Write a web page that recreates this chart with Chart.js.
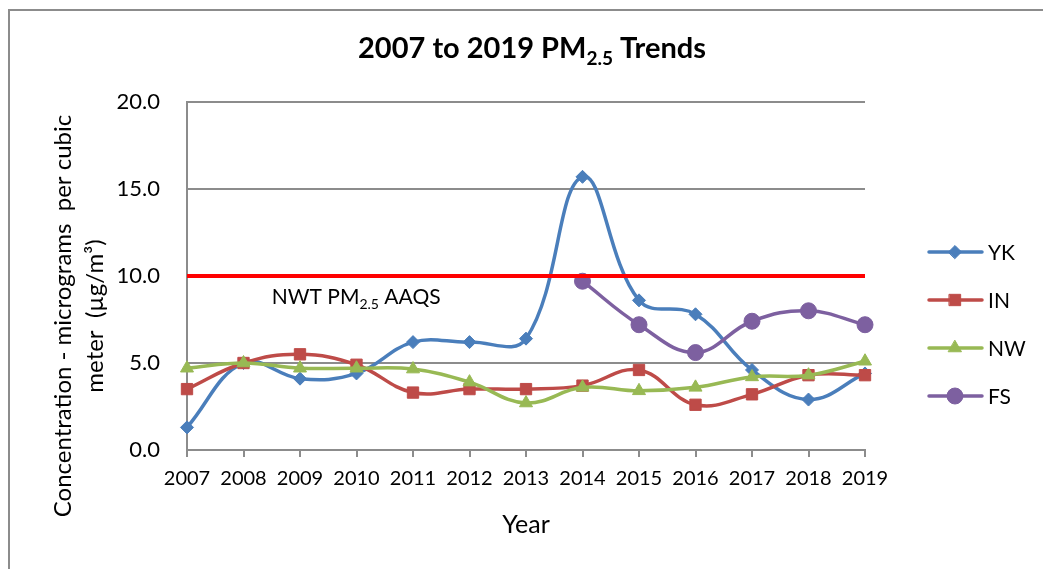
<!DOCTYPE html>
<html>
<head>
<meta charset="utf-8">
<script src="https://cdn.jsdelivr.net/npm/chart.js@4"></script>
<style>
  body { margin: 0; background: #fff; }
  #wrap { position: relative; width: 1043px; height: 569px; }
</style>
</head>
<body>
<div id="wrap"><canvas id="pmChart"></canvas></div>
<script>
const years = ["2007", "2008", "2009", "2010", "2011", "2012", "2013", "2014", "2015", "2016", "2017", "2018", "2019"];
const ykValues = [1.3, 5.0, 4.1, 4.4, 6.2, 6.2, 6.4, 15.7, 8.6, 7.8, 4.6, 2.9, 4.4];
const inValues = [3.5, 5.0, 5.5, 4.9, 3.3, 3.5, 3.5, 3.7, 4.6, 2.6, 3.2, 4.3, 4.3];
const nwValues = [4.7, 5.0, 4.7, 4.7, 4.65, 3.9, 2.7, 3.6, 3.4, 3.6, 4.2, 4.3, 5.1];
const fsValues = [null, null, null, null, null, null, null, 9.7, 7.2, 5.6, 7.4, 8.0, 7.2];
const aaqsValues = [10, 10, 10, 10, 10, 10, 10, 10, 10, 10, 10, 10, 10];
const yTickValues = [0, 5, 10, 15, 20];

const FONT = "Lato, 'Open Sans', sans-serif";
const GRID = "#8c8c8c";

const series = [
  { label: "YK", data: ykValues, color: "#4a7ebb", style: "rectRot", radius: 6.5 },
  { label: "IN", data: inValues, color: "#be4b48", style: "rect", radius: 8 },
  { label: "NW", data: nwValues, color: "#98b954", style: "triangle", radius: 7.5 },
  { label: "FS", data: fsValues, color: "#7d60a0", style: "circle", radius: 8 },
];

// text with a subscript part, parts = [text, font, dy]
function drawParts(ctx, parts, x, y, align) {
  let total = 0;
  parts.forEach((p) => {
    ctx.font = p[1];
    total += ctx.measureText(p[0]).width;
  });
  let cx = align === "center" ? x - total / 2 : x;
  ctx.textAlign = "left";
  parts.forEach((p) => {
    ctx.font = p[1];
    ctx.fillText(p[0], cx, y + p[2]);
    cx += ctx.measureText(p[0]).width;
  });
}

function drawMarker(ctx, style, radius, x, y) {
  if (Chart.helpers && Chart.helpers.drawPoint) {
    Chart.helpers.drawPoint(ctx, { pointStyle: style, radius: radius, rotation: 0, borderWidth: 1 }, x, y);
    return;
  }
  ctx.beginPath();
  ctx.arc(x, y, radius, 0, Math.PI * 2);
  ctx.fill();
}

const extras = {
  id: "extras",
  beforeDraw(chart) {
    const ctx = chart.ctx;
    ctx.save();
    ctx.fillStyle = "#fff";
    ctx.fillRect(0, 0, chart.width, chart.height);
    ctx.strokeStyle = GRID;
    ctx.lineWidth = 2;
    ctx.strokeRect(9, 10, 1200, 800);
    ctx.restore();
  },
  afterDraw(chart) {
    const ctx = chart.ctx;
    const xs = chart.scales.x;
    const ys = chart.scales.y;
    ctx.save();
    ctx.fillStyle = "#000";
    ctx.textBaseline = "alphabetic";

    // title
    drawParts(ctx, [
      ["2007 to 2019 PM", "bold 29px " + FONT, 0],
      ["2.5", "bold 19px " + FONT, 7],
      [" Trends", "bold 29px " + FONT, 0],
    ], 532, 58, "center");

    // standard label
    drawParts(ctx, [
      ["NWT PM", "21px " + FONT, 0],
      ["2.5", "14px " + FONT, 5],
      [" AAQS", "21px " + FONT, 0],
    ], xs.getPixelForValue(1.5), ys.getPixelForValue(8.4), "left");

    // y axis title
    ctx.font = "24px " + FONT;
    ctx.textAlign = "center";
    ctx.textBaseline = "middle";
    [["Concentration - micrograms  per cubic", 63], ["meter  (\u00b5g/m\u00b3)", 95]].forEach((l) => {
      ctx.save();
      ctx.translate(l[1], 316);
      ctx.rotate(-Math.PI / 2);
      ctx.fillText(l[0], 0, 0);
      ctx.restore();
    });

    // legend
    const rows = [252, 300, 348, 396];
    series.forEach((s, i) => {
      const y = rows[i];
      ctx.strokeStyle = s.color;
      ctx.lineWidth = 3.5;
      ctx.lineCap = "round";
      ctx.beginPath();
      ctx.moveTo(929, y);
      ctx.lineTo(982, y);
      ctx.stroke();
      ctx.fillStyle = s.color;
      ctx.lineWidth = 1;
      drawMarker(ctx, s.style, s.radius, 955, y);
      ctx.fillStyle = "#000";
      ctx.font = "21px " + FONT;
      ctx.textAlign = "left";
      ctx.textBaseline = "middle";
      ctx.fillText(s.label, 988, y + 1);
    });
    ctx.restore();
  },
};

const datasets = [{
  label: "NWT PM2.5 AAQS",
  data: aaqsValues,
  borderColor: "#ff0000",
  borderWidth: 4,
  pointRadius: 0,
  tension: 0,
  order: 0,
}];
series.forEach((s, i) => {
  datasets.push({
    label: s.label,
    data: s.data,
    borderColor: s.color,
    backgroundColor: s.color,
    borderWidth: 3.5,
    pointStyle: s.style,
    pointRadius: s.radius,
    pointBorderWidth: 1,
    pointBorderColor: s.color,
    pointBackgroundColor: s.color,
    tension: 0.4,
    spanGaps: false,
    clip: false,
    order: 4 - i,
  });
});

new Chart(document.getElementById("pmChart"), {
  type: "line",
  data: { labels: years, datasets: datasets },
  options: {
    responsive: true,
    maintainAspectRatio: false,
    animation: false,
    layout: { padding: { left: 0, top: 102, right: 178, bottom: 0 } },
    plugins: {
      legend: { display: false },
      tooltip: { enabled: false },
      title: { display: false },
    },
    scales: {
      x: {
        offset: false,
        grid: { drawOnChartArea: false, drawTicks: true, tickLength: 7, color: GRID, lineWidth: 2 },
        border: { color: GRID, width: 2 },
        ticks: { color: "#000", font: { family: FONT, size: 20 }, padding: 10, maxRotation: 0, autoSkip: false },
        title: { display: true, text: "Year", color: "#000", font: { family: FONT, size: 25 }, padding: { top: 0, bottom: 29 } },
        afterFit(scale) { scale.height = 119; },
      },
      y: {
        min: 0,
        max: 20,
        afterBuildTicks(scale) { scale.ticks = yTickValues.map((v) => ({ value: v })); },
        grid: { drawTicks: false, color: GRID, lineWidth: 2 },
        border: { color: GRID, width: 2 },
        ticks: {
          color: "#000",
          font: { family: FONT, size: 22 },
          padding: 27,
          callback: (v) => Number(v).toFixed(1),
        },
        afterFit(scale) { scale.width = 187; },
      },
    },
  },
  plugins: [extras],
});
</script>
</body>
</html>
